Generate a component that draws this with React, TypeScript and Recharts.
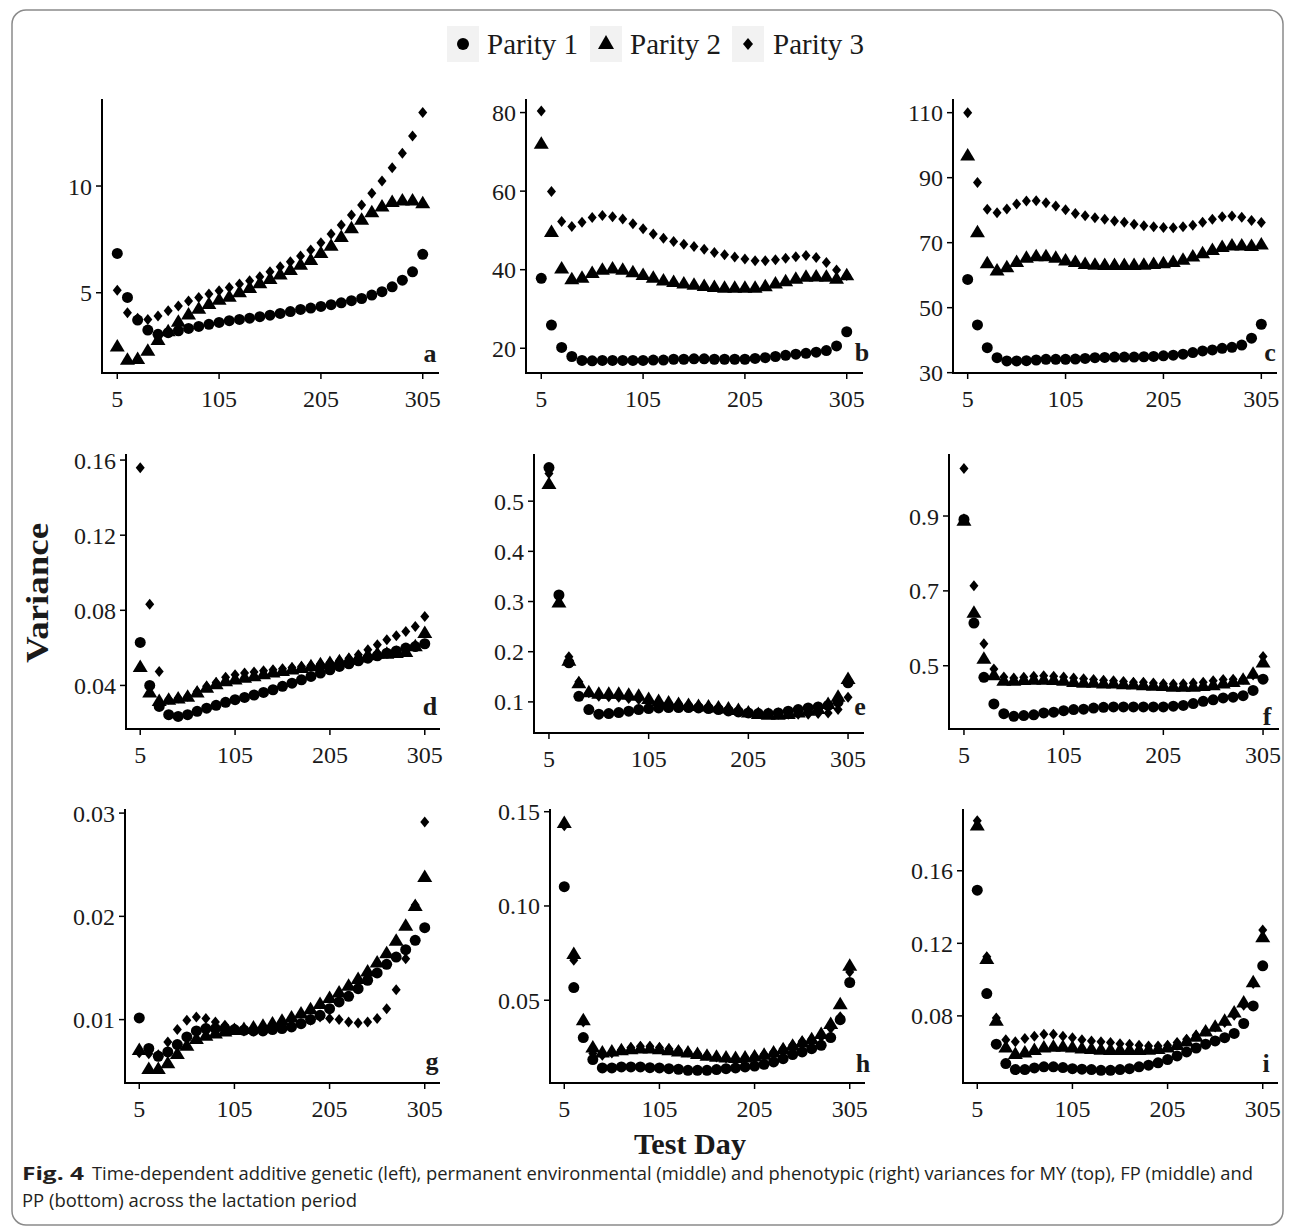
import React from "react";
import { Scatter, ScatterChart, XAxis, YAxis } from "recharts";

// test days (every 10 days of lactation)
const days = [5, 15, 25, 35, 45, 55, 65, 75, 85, 95, 105, 115, 125, 135, 145, 155, 165, 175, 185, 195, 205, 215, 225, 235, 245, 255, 265, 275, 285, 295, 305];
const xTicks = [5, 105, 205, 305];

// a: additive genetic, MY
const aP1 = [6.84, 4.78, 3.72, 3.25, 3.05, 3.13, 3.22, 3.33, 3.42, 3.52, 3.61, 3.69, 3.75, 3.81, 3.88, 3.95, 4.03, 4.12, 4.22, 4.28, 4.36, 4.44, 4.53, 4.63, 4.73, 4.89, 5.05, 5.28, 5.59, 5.98, 6.8];
const aP2 = [2.5, 1.88, 1.92, 2.31, 2.81, 3.22, 3.67, 4.0, 4.27, 4.5, 4.69, 4.84, 5.05, 5.25, 5.47, 5.67, 5.88, 6.09, 6.33, 6.56, 6.88, 7.23, 7.63, 8.05, 8.44, 8.8, 9.06, 9.27, 9.34, 9.34, 9.22];
const aP3 = [5.12, 4.06, 3.8, 3.75, 3.91, 4.16, 4.38, 4.61, 4.78, 4.94, 5.09, 5.25, 5.41, 5.56, 5.75, 5.98, 6.22, 6.45, 6.72, 7.0, 7.34, 7.75, 8.17, 8.64, 9.11, 9.66, 10.23, 10.86, 11.53, 12.34, 13.45];
// b: permanent environmental, MY
const bP1 = [37.8, 25.9, 20.2, 17.9, 16.9, 16.8, 16.9, 16.9, 16.9, 16.9, 16.9, 17.0, 17.0, 17.2, 17.2, 17.3, 17.3, 17.2, 17.2, 17.2, 17.2, 17.4, 17.6, 17.9, 18.2, 18.5, 18.7, 19.0, 19.4, 20.6, 24.2];
const bP2 = [72.2, 49.7, 40.4, 37.7, 38.1, 39.3, 40.1, 40.4, 40.1, 39.5, 38.8, 38.1, 37.4, 37.0, 36.6, 36.3, 36.0, 35.7, 35.5, 35.5, 35.5, 35.5, 35.9, 36.6, 37.2, 37.8, 38.3, 38.4, 38.3, 37.8, 38.7];
const bP3 = [80.4, 59.9, 52.3, 51.0, 52.1, 53.3, 53.8, 53.5, 52.9, 51.7, 50.4, 49.1, 48.0, 47.2, 46.5, 45.9, 45.2, 44.4, 43.8, 43.2, 42.7, 42.3, 42.3, 42.5, 42.9, 43.3, 43.6, 43.1, 41.8, 39.9, 38.5];
// c: phenotypic, MY
const cP1 = [58.7, 44.7, 37.7, 34.6, 33.6, 33.6, 33.7, 33.9, 34.1, 34.1, 34.1, 34.2, 34.4, 34.6, 34.7, 34.8, 34.8, 34.8, 34.9, 35.0, 35.2, 35.4, 35.7, 36.2, 36.7, 37.0, 37.5, 37.8, 38.5, 40.6, 44.9];
const cP2 = [97.0, 73.4, 63.8, 61.6, 62.6, 64.2, 65.5, 66.0, 66.0, 65.5, 64.7, 64.2, 63.6, 63.4, 63.3, 63.3, 63.3, 63.3, 63.4, 63.6, 63.8, 64.2, 64.9, 65.9, 66.9, 67.9, 68.8, 69.3, 69.3, 69.1, 69.6];
const cP3 = [110.0, 88.5, 80.3, 79.2, 80.4, 81.9, 82.8, 82.9, 82.3, 81.3, 80.1, 79.0, 78.3, 77.7, 77.2, 76.7, 76.3, 75.7, 75.2, 74.9, 74.7, 74.6, 74.9, 75.4, 76.3, 77.2, 78.0, 78.2, 77.8, 76.8, 76.2];
// d: additive genetic, FP
const dP1 = [0.0629, 0.04, 0.0288, 0.0244, 0.0235, 0.0244, 0.0262, 0.0279, 0.0294, 0.031, 0.0324, 0.0336, 0.0349, 0.0363, 0.0377, 0.0395, 0.0412, 0.043, 0.0448, 0.0466, 0.0483, 0.0501, 0.0515, 0.0531, 0.0545, 0.0558, 0.0572, 0.0584, 0.0599, 0.0607, 0.0622];
const dP2 = [0.0501, 0.0365, 0.032, 0.0327, 0.0333, 0.0342, 0.0365, 0.039, 0.0409, 0.0425, 0.0434, 0.0443, 0.0451, 0.0462, 0.0471, 0.048, 0.0487, 0.0496, 0.0505, 0.0515, 0.0522, 0.0531, 0.054, 0.0551, 0.0563, 0.0572, 0.0572, 0.0575, 0.0581, 0.0611, 0.0682];
const dP3 = [0.1559, 0.0832, 0.0474, 0.0327, 0.0333, 0.0342, 0.0368, 0.0395, 0.0416, 0.0444, 0.0457, 0.0466, 0.0471, 0.0478, 0.0483, 0.0489, 0.0496, 0.0501, 0.0506, 0.0515, 0.0522, 0.0533, 0.0545, 0.0563, 0.059, 0.0616, 0.0643, 0.0664, 0.0687, 0.0714, 0.0767];
// e: permanent environmental, FP
const eP1 = [0.567, 0.313, 0.178, 0.111, 0.0847, 0.0754, 0.0767, 0.0787, 0.0814, 0.0847, 0.0867, 0.088, 0.0887, 0.0887, 0.0887, 0.088, 0.0867, 0.0847, 0.082, 0.08, 0.078, 0.0767, 0.0767, 0.078, 0.0814, 0.0847, 0.088, 0.09, 0.093, 0.1, 0.138];
const eP2 = [0.535, 0.299, 0.183, 0.138, 0.12, 0.117, 0.117, 0.117, 0.115, 0.113, 0.107, 0.103, 0.1, 0.097, 0.095, 0.093, 0.092, 0.09, 0.088, 0.0847, 0.08, 0.0767, 0.0754, 0.0754, 0.0767, 0.08, 0.0834, 0.0867, 0.0967, 0.111, 0.1465];
const eP3 = [0.555, 0.309, 0.19, 0.14, 0.118, 0.111, 0.11, 0.109, 0.107, 0.105, 0.102, 0.1, 0.098, 0.097, 0.095, 0.093, 0.091, 0.09, 0.0867, 0.0834, 0.08, 0.078, 0.0767, 0.0754, 0.0754, 0.0754, 0.0754, 0.0767, 0.078, 0.0847, 0.109];
// f: phenotypic, FP
const fP1 = [0.891, 0.614, 0.469, 0.398, 0.372, 0.365, 0.367, 0.369, 0.374, 0.376, 0.38, 0.383, 0.384, 0.387, 0.389, 0.39, 0.39, 0.39, 0.39, 0.39, 0.39, 0.392, 0.394, 0.399, 0.405, 0.409, 0.414, 0.416, 0.42, 0.434, 0.464];
const fP2 = [0.889, 0.643, 0.52, 0.476, 0.461, 0.461, 0.463, 0.464, 0.464, 0.463, 0.461, 0.458, 0.456, 0.456, 0.454, 0.454, 0.452, 0.451, 0.449, 0.448, 0.447, 0.445, 0.445, 0.445, 0.447, 0.449, 0.454, 0.458, 0.464, 0.48, 0.51];
const fP3 = [1.027, 0.714, 0.559, 0.491, 0.47, 0.467, 0.469, 0.472, 0.473, 0.472, 0.47, 0.467, 0.465, 0.463, 0.461, 0.46, 0.458, 0.456, 0.456, 0.454, 0.452, 0.451, 0.452, 0.454, 0.456, 0.46, 0.463, 0.464, 0.464, 0.475, 0.525];
// g: additive genetic, PP
const gP1 = [0.01016, 0.0072, 0.00645, 0.00687, 0.00758, 0.00832, 0.0089, 0.00913, 0.00913, 0.00913, 0.00903, 0.00897, 0.0089, 0.0089, 0.00903, 0.00913, 0.00929, 0.00961, 0.01, 0.01042, 0.01106, 0.01171, 0.01226, 0.013, 0.01381, 0.01452, 0.01535, 0.01606, 0.01677, 0.01768, 0.0189];
const gP2 = [0.0071, 0.00526, 0.00526, 0.00581, 0.00671, 0.00752, 0.00816, 0.00848, 0.00871, 0.0089, 0.00903, 0.00913, 0.00929, 0.00945, 0.00968, 0.00994, 0.01026, 0.01065, 0.01106, 0.01155, 0.01213, 0.01268, 0.01332, 0.01397, 0.01471, 0.01558, 0.01648, 0.01768, 0.01913, 0.02106, 0.02387];
const gP3 = [0.0068, 0.0067, 0.0066, 0.00784, 0.00903, 0.00994, 0.01026, 0.0101, 0.00977, 0.00945, 0.00913, 0.0089, 0.0089, 0.00897, 0.00913, 0.00929, 0.00945, 0.00961, 0.00994, 0.01026, 0.0101, 0.01, 0.00977, 0.00968, 0.00977, 0.0101, 0.01106, 0.0129, 0.0159, 0.0211, 0.02913];
// h: permanent environmental, PP
const hP1 = [0.1102, 0.0567, 0.0302, 0.0185, 0.0141, 0.0141, 0.0146, 0.0146, 0.0146, 0.0142, 0.0141, 0.0137, 0.0134, 0.0128, 0.0128, 0.0128, 0.0132, 0.0137, 0.0141, 0.0146, 0.0151, 0.016, 0.0173, 0.019, 0.0212, 0.0226, 0.0243, 0.0261, 0.0302, 0.0397, 0.0594];
const hP2 = [0.1443, 0.0748, 0.0397, 0.0252, 0.0226, 0.0231, 0.0238, 0.0243, 0.0247, 0.0247, 0.0243, 0.0238, 0.0231, 0.0226, 0.0217, 0.0208, 0.0203, 0.0199, 0.0196, 0.0199, 0.0204, 0.0213, 0.0226, 0.0243, 0.0261, 0.0279, 0.0296, 0.0323, 0.0376, 0.0482, 0.0686];
const hP3 = [0.1426, 0.0712, 0.0385, 0.0217, 0.0208, 0.022, 0.0238, 0.0249, 0.0256, 0.0256, 0.0249, 0.0243, 0.0235, 0.0226, 0.0217, 0.0208, 0.0199, 0.0194, 0.019, 0.0194, 0.0203, 0.0213, 0.0226, 0.0243, 0.0262, 0.0282, 0.0295, 0.0305, 0.035, 0.0412, 0.065];
// i: phenotypic, PP
const iP1 = [0.1493, 0.0923, 0.0644, 0.0537, 0.0504, 0.0504, 0.0513, 0.0519, 0.0519, 0.0515, 0.0509, 0.0506, 0.0504, 0.05, 0.05, 0.0504, 0.0509, 0.0519, 0.0528, 0.0541, 0.0559, 0.0579, 0.0601, 0.0623, 0.0644, 0.0662, 0.068, 0.0703, 0.0758, 0.0855, 0.1076];
const iP2 = [0.1852, 0.1116, 0.0776, 0.0629, 0.0592, 0.0601, 0.0614, 0.0629, 0.0633, 0.0633, 0.0629, 0.0623, 0.062, 0.0616, 0.0614, 0.0614, 0.0614, 0.0614, 0.0616, 0.062, 0.0629, 0.0642, 0.0662, 0.0688, 0.0717, 0.0743, 0.0776, 0.0822, 0.0877, 0.0988, 0.1236];
const iP3 = [0.1876, 0.1126, 0.0789, 0.0669, 0.0657, 0.0675, 0.0688, 0.0699, 0.0699, 0.0688, 0.0679, 0.0669, 0.0662, 0.0657, 0.0653, 0.0647, 0.0644, 0.0638, 0.0634, 0.0634, 0.0638, 0.0653, 0.0671, 0.0693, 0.0717, 0.0739, 0.0763, 0.0804, 0.0859, 0.0978, 0.1273];

const ticksA = [5, 10];
const ticksB = [20, 40, 60, 80];
const ticksC = [30, 50, 70, 90, 110];
const ticksD = [0.04, 0.08, 0.12, 0.16];
const ticksE = [0.1, 0.2, 0.3, 0.4, 0.5];
const ticksF = [0.5, 0.7, 0.9];
const ticksG = [0.01, 0.02, 0.03];
const ticksH = [0.05, 0.1, 0.15];
const ticksI = [0.08, 0.12, 0.16];

const serif = "'Liberation Serif', 'Times New Roman', serif";
const sans = "'Open Sans', 'Noto Sans', 'Liberation Sans', sans-serif";

const panels = [
  { id: "a", left: 102, top: 100, right: 438, bottom: 373, domain: [1.24, 14.03], ticks: ticksA, dec: 0, series: [aP1, aP2, aP3], lx: 430, ly: 362 },
  { id: "b", left: 526, top: 100, right: 862, bottom: 373, domain: [13.7, 83.2], ticks: ticksB, dec: 0, series: [bP1, bP2, bP3], lx: 862, ly: 361 },
  { id: "c", left: 953, top: 100, right: 1276, bottom: 373, domain: [29.9, 113.9], ticks: ticksC, dec: 0, series: [cP1, cP2, cP3], lx: 1270, ly: 361 },
  { id: "d", left: 126, top: 455, right: 439, bottom: 729, domain: [0.0168, 0.1627], ticks: ticksD, dec: 2, series: [dP1, dP2, dP3], lx: 430, ly: 715 },
  { id: "e", left: 534, top: 455, right: 863, bottom: 733, domain: [0.038, 0.592], ticks: ticksE, dec: 1, series: [eP1, eP2, eP3], lx: 860, ly: 715 },
  { id: "f", left: 949, top: 455, right: 1278, bottom: 729, domain: [0.331, 1.063], ticks: ticksF, dec: 1, series: [fP1, fP2, fP3], lx: 1267, ly: 725 },
  { id: "g", left: 125, top: 810, right: 439, bottom: 1083, domain: [0.00386, 0.0303], ticks: ticksG, dec: 2, series: [gP1, gP2, gP3], lx: 432, ly: 1070 },
  { id: "h", left: 550, top: 810, right: 864, bottom: 1083, domain: [0.0061, 0.1509], ticks: ticksH, dec: 2, series: [hP1, hP2, hP3], lx: 863, ly: 1072 },
  { id: "i", left: 963, top: 810, right: 1277, bottom: 1083, domain: [0.043, 0.1935], ticks: ticksI, dec: 2, series: [iP1, iP2, iP3], lx: 1266, ly: 1072 },
];

const Dot = (props: any) => <circle cx={props.cx} cy={props.cy} r={5.5} fill="#000" />;
const Tri = (props: any) => {
  const { cx, cy } = props;
  return <path d={`M${cx},${cy - 7} L${cx + 7.5},${cy + 5.5} L${cx - 7.5},${cy + 5.5} Z`} fill="#000" />;
};
const Dia = (props: any) => {
  const { cx, cy } = props;
  return <path d={`M${cx},${cy - 5.5} L${cx + 4.5},${cy} L${cx},${cy + 5.5} L${cx - 4.5},${cy} Z`} fill="#000" />;
};
const shapes = [Dot, Tri, Dia];

const axisLine = { stroke: "#000", strokeWidth: 2, strokeLinecap: "square" as const };
const tickLine = { stroke: "#000", strokeWidth: 1.5 };
const tickStyle = { fontSize: 24, fill: "#1a1a1a", fontFamily: serif };

const Panel = ({ p }: { p: (typeof panels)[number] }) => {
  const yw = 80;
  const xh = 50;
  const mt = 16;
  const mr = 30;
  const w = p.right - p.left + yw + mr;
  const h = p.bottom - p.top + xh + mt;
  return (
    <div style={{ position: "absolute", left: p.left - yw, top: p.top - mt }}>
      <ScatterChart width={w} height={h} margin={{ top: mt, right: mr, bottom: 0, left: 0 }}>
        <XAxis
          type="number"
          dataKey="day"
          domain={[-10, 320]}
          ticks={xTicks}
          interval={0}
          allowDataOverflow
          height={xh}
          axisLine={axisLine}
          tickLine={tickLine}
          tickSize={6}
          tickMargin={11}
          tick={tickStyle}
        />
        <YAxis
          type="number"
          dataKey="y"
          domain={p.domain}
          ticks={p.ticks}
          interval={0}
          allowDataOverflow
          width={yw}
          axisLine={axisLine}
          tickLine={tickLine}
          tickSize={6}
          tickMargin={4}
          tick={tickStyle}
          tickFormatter={(v: number) => v.toFixed(p.dec)}
        />
        {p.series.map((s, i) => (
          <Scatter
            key={i}
            data={s.map((v, j) => ({ day: days[j], y: v }))}
            shape={shapes[i]}
            isAnimationActive={false}
          />
        ))}
      </ScatterChart>
    </div>
  );
};

export default function App() {
  return (
    <div style={{ position: "absolute", left: 0, top: 0, width: 1295, height: 1228, background: "#fff" }}>
      {panels.map((p) => (
        <Panel key={p.id} p={p} />
      ))}
      <svg width={1295} height={1228} style={{ position: "absolute", left: 0, top: 0, pointerEvents: "none" }}>
        <rect x={12} y={10} width={1271} height={1215} rx={14} fill="none" stroke="#8a8a8a" strokeWidth={1.5} />

        {/* legend */}
        <rect x={447} y={26} width={32} height={36} fill="#f2f2f2" />
        <circle cx={463} cy={44} r={6} fill="#000" />
        <text x={487} y={54} fontFamily={serif} fontSize={29} fill="#1a1a1a">Parity 1</text>
        <rect x={590} y={26} width={32} height={36} fill="#f2f2f2" />
        <path d="M606,35 L614,49 L598,49 Z" fill="#000" />
        <text x={630} y={54} fontFamily={serif} fontSize={29} fill="#1a1a1a">Parity 2</text>
        <rect x={732} y={26} width={32} height={36} fill="#f2f2f2" />
        <path d="M748,38 L753,44 L748,50 L743,44 Z" fill="#000" />
        <text x={773} y={54} fontFamily={serif} fontSize={29} fill="#1a1a1a">Parity 3</text>

        {panels.map((p) => (
          <text key={p.id} x={p.lx} y={p.ly} textAnchor="middle" fontFamily={serif} fontWeight="bold" fontSize={26} fill="#1a1a1a">
            {p.id}
          </text>
        ))}

        <text
          x={0}
          y={0}
          transform="translate(48,593) rotate(-90)"
          textAnchor="middle"
          fontFamily={serif}
          fontWeight="bold"
          fontSize={32}
          textLength={140}
          lengthAdjust="spacingAndGlyphs"
          fill="#1a1a1a"
        >
          Variance
        </text>
        <text x={690} y={1154} textAnchor="middle" fontFamily={serif} fontWeight="bold" fontSize={30} textLength={112} lengthAdjust="spacingAndGlyphs" fill="#1a1a1a">
          Test Day
        </text>

        {/* caption */}
        <text x={22} y={1180} fontFamily={sans} fontWeight="bold" fontSize={18} textLength={62} lengthAdjust="spacingAndGlyphs" fill="#231f20">
          Fig. 4
        </text>
        <text x={92} y={1180} fontFamily={sans} fontSize={18} textLength={1161} lengthAdjust="spacingAndGlyphs" fill="#231f20">
          Time-dependent additive genetic (left), permanent environmental (middle) and phenotypic (right) variances for MY (top), FP (middle) and
        </text>
        <text x={22} y={1207} fontFamily={sans} fontSize={18} textLength={335} lengthAdjust="spacingAndGlyphs" fill="#231f20">
          PP (bottom) across the lactation period
        </text>
      </svg>
    </div>
  );
}
